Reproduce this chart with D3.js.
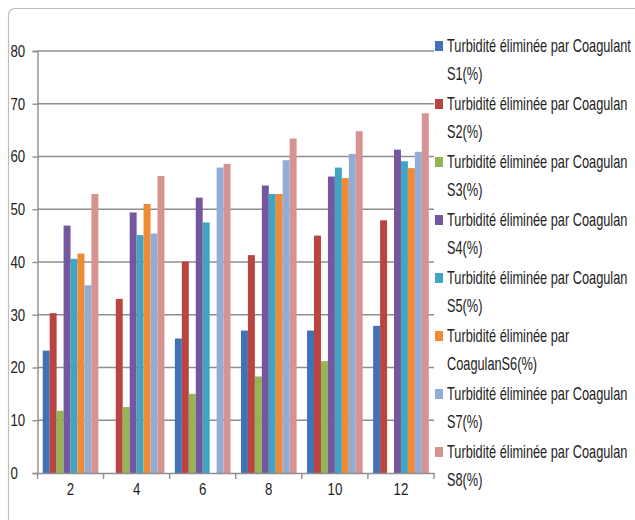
<!DOCTYPE html>
<html>
<head>
<meta charset="utf-8">
<script src="https://cdn.jsdelivr.net/npm/d3@7"></script>
<style>
  html, body { margin: 0; padding: 0; background: #fff; }
  svg { display: block; }
  text { font-family: "Liberation Sans", Arial, sans-serif; fill: #222; }
</style>
</head>
<body>
<svg id="chart" width="635" height="520"></svg>
<script>
// Dose categories on the x axis
const categories = ["2", "4", "6", "8", "10", "12"];

// Turbidity removed (%) for each coagulant, one value per category (null = no bar)
const s1 = [23.2, null, 25.5, 27.0, 27.0, 27.9];
const s2 = [30.3, 33.0, 40.1, 41.3, 45.0, 47.9];
const s3 = [11.8, 12.5, 15.0, 18.3, 21.2, null];
const s4 = [46.9, 49.4, 52.2, 54.5, 56.2, 61.3];
const s5 = [40.6, 45.1, 47.5, 52.9, 57.9, 59.1];
const s6 = [41.6, 51.0, null, 52.9, 55.9, 57.8];
const s7 = [35.6, 45.4, 57.9, 59.3, 60.5, 60.9];
const s8 = [52.9, 56.3, 58.6, 63.4, 64.8, 68.2];

const seriesValues = [s1, s2, s3, s4, s5, s6, s7, s8];

// Legend labels, each split onto two lines
const seriesNames = [
  ["Turbidité éliminée par Coagulant", "S1(%)"],
  ["Turbidité éliminée par Coagulan", "S2(%)"],
  ["Turbidité éliminée par Coagulan", "S3(%)"],
  ["Turbidité éliminée par Coagulan", "S4(%)"],
  ["Turbidité éliminée par Coagulan", "S5(%)"],
  ["Turbidité éliminée par", "CoagulanS6(%)"],
  ["Turbidité éliminée par Coagulan", "S7(%)"],
  ["Turbidité éliminée par Coagulan", "S8(%)"]
];

const seriesColors = ["#4172B5", "#B94441", "#93B553", "#7557A0",
                      "#41A5C1", "#F08A35", "#93ACD6", "#D79392"];

const yTicks = [0, 10, 20, 30, 40, 50, 60, 70, 80];

// condensed look for axis text (horizontal squeeze)
const squeeze = 0.78;

const svg = d3.select("#chart");

// outer chart frame (only its top-left part falls inside the view)
svg.append("rect")
  .attr("x", 8.5).attr("y", 8.5)
  .attr("width", 800).attr("height", 700)
  .attr("rx", 6)
  .attr("fill", "none")
  .attr("stroke", "#bdbdbd")
  .attr("stroke-width", 1.2);

const plot = { left: 37.5, right: 434, top: 51, bottom: 473 };

const x0 = d3.scaleBand()
  .domain(categories)
  .range([plot.left, plot.right])
  .paddingInner(0).paddingOuter(0);

const x1 = d3.scaleBand()
  .domain(d3.range(seriesValues.length))
  .range([0, x0.bandwidth()])
  .paddingInner(0).paddingOuter(0.75);

const y = d3.scaleLinear().domain([0, 80]).range([plot.bottom, plot.top]);

// horizontal gridlines
svg.append("g")
  .selectAll("line")
  .data(yTicks.filter(t => t > 0))
  .join("line")
  .attr("x1", plot.left).attr("x2", plot.right)
  .attr("y1", d => y(d)).attr("y2", d => y(d))
  .attr("stroke", "#8e8e8e")
  .attr("stroke-width", 1.4);

// bars
const barData = [];
seriesValues.forEach((vals, si) => {
  vals.forEach((v, ci) => {
    if (v !== null) barData.push({ si, cat: categories[ci], v });
  });
});

svg.append("g")
  .selectAll("rect")
  .data(barData)
  .join("rect")
  .attr("x", d => x0(d.cat) + x1(d.si))
  .attr("y", d => y(d.v))
  .attr("width", x1.bandwidth())
  .attr("height", d => y(0) - y(d.v))
  .attr("fill", d => seriesColors[d.si]);

// y axis
const yAxis = d3.axisLeft(y).tickValues(yTicks).tickSize(5).tickPadding(7);
const gy = svg.append("g")
  .attr("transform", `translate(${plot.left},0)`)
  .call(yAxis);
gy.select(".domain").attr("stroke", "#8e8e8e").attr("stroke-width", 1.4);
gy.selectAll(".tick line").attr("stroke", "#8e8e8e").attr("stroke-width", 1.4);
gy.selectAll(".tick text")
  .attr("x", 0).attr("text-anchor", "start")
  .attr("transform", `translate(-27,0) scale(${squeeze},1)`)
  .style("font-size", "17px")
  .style("font-family", '"Liberation Sans", Arial, sans-serif')
  .attr("fill", "#222");

// x axis: labels centred in bands, tick marks on band boundaries
const xAxis = d3.axisBottom(x0).tickSize(0).tickPadding(10);
const gx = svg.append("g")
  .attr("transform", `translate(0,${plot.bottom})`)
  .call(xAxis);
gx.select(".domain").attr("stroke", "#8e8e8e").attr("stroke-width", 1.4);
gx.selectAll(".tick text")
  .attr("transform", `scale(${squeeze},1)`)
  .style("font-size", "17px")
  .style("font-family", '"Liberation Sans", Arial, sans-serif')
  .attr("fill", "#222");

const boundaries = categories.map(c => x0(c)).concat([plot.right]);
gx.append("g")
  .selectAll("line")
  .data(boundaries)
  .join("line")
  .attr("x1", d => d).attr("x2", d => d)
  .attr("y1", 0).attr("y2", 6)
  .attr("stroke", "#8e8e8e")
  .attr("stroke-width", 1.4);

// legend: swatch + two squeezed text lines per series
const legendTop = 46, legendStep = 58, lineGap = 28;
const legendWidth = 184;
const legend = svg.append("g");
const entries = [];
seriesNames.forEach((lines, i) => {
  const cy = legendTop + i * legendStep;
  legend.append("rect")
    .attr("x", 435).attr("y", cy - 5)
    .attr("width", 8).attr("height", 10)
    .attr("fill", seriesColors[i]);
  lines.forEach((t, j) => {
    const g = legend.append("g")
      .attr("transform", `translate(447,${cy + j * lineGap})`);
    g.append("text")
      .attr("dy", "0.35em")
      .style("font-size", "18px")
      .text(t);
    entries.push(g);
  });
});
// one common squeeze so the longest line fits the right margin
const longest = d3.max(legend.selectAll("text").nodes(), n => n.getComputedTextLength());
const k = Math.min(1, legendWidth / longest);
entries.forEach(g => {
  g.attr("transform", g.attr("transform") + ` scale(${k},1)`);
});
</script>
</body>
</html>
